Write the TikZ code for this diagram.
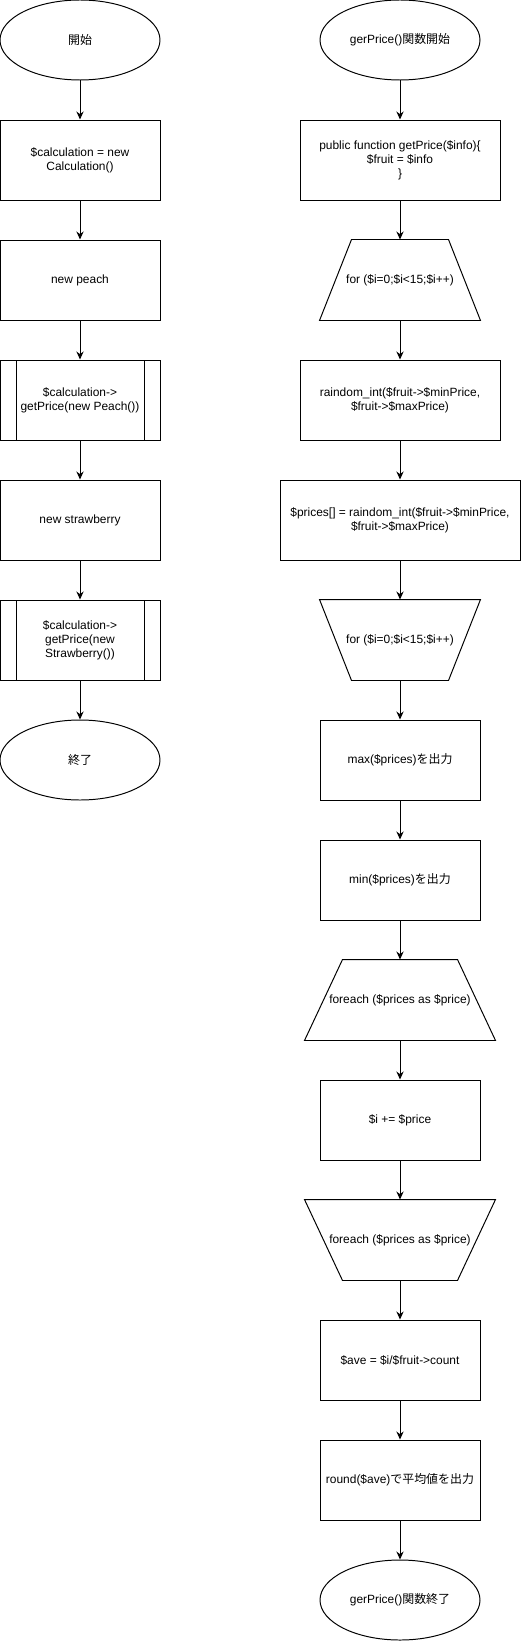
\documentclass[tikz,border=0pt]{standalone}
\usepackage{fontspec}
\setmainfont{Liberation Sans}
\newfontfamily\jp{Noto Sans CJK JP}
\usepackage{tikz}
\usetikzlibrary{positioning}
\usetikzlibrary{calc,arrows.meta}
\usetikzlibrary{shapes.geometric}

\tikzset{
  every node/.style={font=\fontsize{8.5}{10}\selectfont, align=center},
  terminal/.style={draw, ellipse, minimum width=4cm, minimum height=2cm, inner sep=0pt},
  procbox/.style={draw, rectangle, minimum width=4cm, minimum height=2cm},
  subproc/.style={procbox, path picture={
      \draw ([xshift=0.4cm]path picture bounding box.north west) -- ([xshift=0.4cm]path picture bounding box.south west);
      \draw ([xshift=-0.4cm]path picture bounding box.north east) -- ([xshift=-0.4cm]path picture bounding box.south east);}},
  loopbox/.style={rectangle, minimum width=#1, minimum height=2cm, inner sep=0pt},
  flow/.style={-{Stealth[length=2mm,width=1.8mm]}},
}

\begin{document}
\begin{tikzpicture}[line width=0.7pt]
  % layout of the two columns
  \def\leftX{2}
  \def\rightX{10}
  \def\rowStep{3}
  \def\topY{-1}

  \useasboundingbox (0,0) rectangle (13.025,-41.025);

  % main program (left column)
  \node[terminal] (start) at (\leftX,\topY) {{\jp 開始}};
  \node[procbox] (newcalc) at (\leftX,\topY-1*\rowStep) {\$calculation = new\\Calculation()};
  \node[procbox] (peach) at (\leftX,\topY-2*\rowStep) {new peach};
  \node[subproc] (callpeach) at (\leftX,\topY-3*\rowStep) {\$calculation->\\getPrice(new Peach())};
  \node[procbox] (berry) at (\leftX,\topY-4*\rowStep) {new strawberry};
  \node[subproc] (callberry) at (\leftX,\topY-5*\rowStep) {\$calculation->\\getPrice(new\\Strawberry())};
  \node[terminal] (stop) at (\leftX,\topY-6*\rowStep) {{\jp 終了}};

  % getPrice() (right column)
  \node[terminal] (fstart) at (\rightX,\topY) {gerPrice(){\jp 関数開始}};
  \node[procbox, minimum width=5cm] (fdef) at (\rightX,\topY-1*\rowStep) {public function getPrice(\$info)\{\\\$fruit = \$info\\\}};
  \node[loopbox=4cm] (for1) at (\rightX,\topY-2*\rowStep) {for (\$i=0;\$i<15;\$i++)};
  \node[procbox, minimum width=5cm] (rand) at (\rightX,\topY-3*\rowStep) {raindom\_int(\$fruit->\$minPrice,\\\$fruit->\$maxPrice)};
  \node[procbox, minimum width=6cm] (prices) at (\rightX,\topY-4*\rowStep) {\$prices[] = raindom\_int(\$fruit->\$minPrice,\\\$fruit->\$maxPrice)};
  \node[loopbox=4cm] (for2) at (\rightX,\topY-5*\rowStep) {for (\$i=0;\$i<15;\$i++)};
  \node[procbox] (max) at (\rightX,\topY-6*\rowStep) {max(\$prices){\jp を出力}};
  \node[procbox] (min) at (\rightX,\topY-7*\rowStep) {min(\$prices){\jp を出力}};
  \node[loopbox=4.75cm] (each1) at (\rightX,\topY-8*\rowStep) {foreach (\$prices as \$price)};
  \node[procbox] (sum) at (\rightX,\topY-9*\rowStep) {\$i += \$price};
  \node[loopbox=4.75cm] (each2) at (\rightX,\topY-10*\rowStep) {foreach (\$prices as \$price)};
  \node[procbox] (ave) at (\rightX,\topY-11*\rowStep) {\$ave = \$i/\$fruit->count};
  \node[procbox] (round) at (\rightX,\topY-12*\rowStep) {round(\$ave){\jp で平均値を出力}};
  \node[terminal] (fstop) at (\rightX,\topY-13*\rowStep) {gerPrice(){\jp 関数終了}};

  % loop limits: narrow side up for the start, down for the end
  \foreach \n/\d in {for1/0.8, each1/0.95} {
    \draw (\n.south west) -- ($(\n.north west)+(\d,0)$) -- ($(\n.north east)-(\d,0)$) -- (\n.south east) -- cycle;
  }
  \foreach \n/\d in {for2/0.8, each2/0.95} {
    \draw (\n.north west) -- ($(\n.south west)+(\d,0)$) -- ($(\n.south east)-(\d,0)$) -- (\n.north east) -- cycle;
  }

  % arrows
  \foreach \a/\b in {start/newcalc, newcalc/peach, peach/callpeach, callpeach/berry, berry/callberry, callberry/stop} {
    \draw[flow] (\a) -- (\b);
  }
  \foreach \a/\b in {fstart/fdef, fdef/for1, for1/rand, rand/prices, prices/for2, for2/max, max/min, min/each1, each1/sum, sum/each2, each2/ave, ave/round, round/fstop} {
    \draw[flow] (\a) -- (\b);
  }
\end{tikzpicture}
\end{document}
